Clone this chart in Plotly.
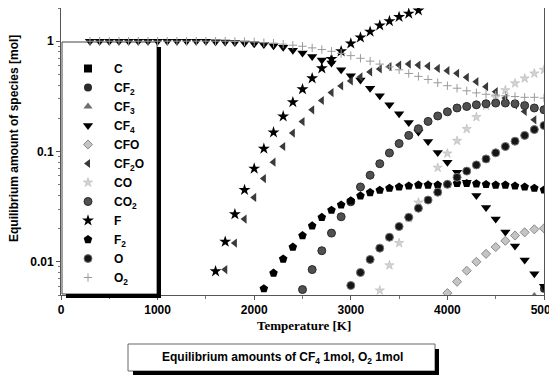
import plotly.graph_objects as go
import math

# ---------------- data ----------------
T_CF4 = list(range(300, 5001, 100))
CF4 = [1.0, 1.0, 1.0, 1.0, 1.0, 1.0, 1.0, 1.0, 1.0, 1.0, 1.0, 1.0, 1.0,
       0.99, 0.985, 0.975, 0.965, 0.95, 0.935, 0.91, 0.88, 0.83, 0.78,
       0.725, 0.675, 0.635, 0.55, 0.487, 0.445, 0.375, 0.321, 0.265, 0.22,
       0.183, 0.15, 0.123, 0.098, 0.08, 0.065, 0.0526, 0.040, 0.031, 0.0244,
       0.0186, 0.0139, 0.0104, 0.0078, 0.006]

T_O2 = list(range(300, 5001, 100))
O2 = [1.0, 1.0, 1.0, 1.0, 1.0, 1.0, 1.0, 1.0, 1.0, 1.0, 1.0, 1.0, 1.0,
      1.0, 1.0, 0.995, 0.99, 0.985,
      0.97, 0.96, 0.94, 0.92, 0.90, 0.87, 0.84, 0.81, 0.775, 0.74,
      0.70, 0.66, 0.62, 0.585, 0.55, 0.51, 0.48, 0.45, 0.42, 0.395,
      0.375, 0.355, 0.34, 0.33, 0.325, 0.32, 0.315, 0.31, 0.31, 0.305]

T_F = list(range(1600, 3701, 100))
F = [0.0082, 0.0152, 0.027, 0.0448, 0.07, 0.106, 0.149, 0.208, 0.28, 0.367,
     0.461, 0.568, 0.69, 0.81, 0.953, 1.08, 1.22, 1.39, 1.52, 1.66, 1.78, 1.9]

T_CF2O = list(range(1700, 5001, 100))
CF2O = [0.0085, 0.0148, 0.0244, 0.0383, 0.0568, 0.080, 0.111, 0.147, 0.187,
        0.239, 0.29, 0.342, 0.393, 0.436, 0.474, 0.526, 0.56, 0.587, 0.608,
        0.621, 0.608, 0.595, 0.567, 0.54, 0.512, 0.471, 0.43, 0.387, 0.349,
        0.305, 0.265, 0.231, 0.194, 0.169]

T_F2 = list(range(2100, 5001, 100))
F2 = [0.0057, 0.0079, 0.0106, 0.0136, 0.0173, 0.0212, 0.0253, 0.0294, 0.0328,
      0.0357, 0.0396, 0.0425, 0.0446, 0.0465, 0.0477, 0.0487, 0.0497, 0.0497,
      0.0497, 0.0503, 0.0514, 0.0514, 0.051, 0.0503, 0.0497, 0.0497, 0.0487,
      0.0477, 0.0465, 0.0448]

T_CO2 = list(range(2500, 5001, 100))
CO2 = [0.0056, 0.0085, 0.0126, 0.0182, 0.0256, 0.035, 0.0477, 0.061, 0.0775,
       0.097, 0.118, 0.14, 0.161, 0.1875, 0.21, 0.229, 0.248, 0.256, 0.265,
       0.271, 0.275, 0.275, 0.271, 0.261, 0.248, 0.239]

T_O = list(range(3000, 5001, 100))
O = [0.0061, 0.008, 0.0105, 0.0133, 0.0167, 0.0209, 0.0253, 0.0306, 0.0363,
     0.0428, 0.0504, 0.0583, 0.0664, 0.0756, 0.0856, 0.0973, 0.111, 0.124,
     0.14, 0.158, 0.172]

T_CO = list(range(3300, 5001, 100))
CO = [0.0055, 0.0093, 0.0148, 0.0248, 0.0345, 0.05, 0.0713, 0.096, 0.125,
      0.16, 0.205, 0.26, 0.31, 0.36, 0.415, 0.46, 0.51, 0.55]

T_CFO = list(range(4000, 5001, 100))
CFO = [0.0052, 0.0066, 0.0083, 0.010, 0.0118, 0.0136, 0.0155, 0.0173, 0.0185,
       0.0197, 0.0201]

T_CF2 = [5000]
CF2 = [0.0057]

T_CF3 = [4900]
CF3 = [0.0049]

# C stays below the visible range of the chart
T_C = [5000]
C = [0.003]

X_TICKS = [0, 1000, 2000, 3000, 4000, 5000]
Y_TICKS = [0.01, 0.1, 1]
Y_TICKTEXT = ["0.01", "0.1", "1"]

# ---------------- figure ----------------
# The page body has an 8px default margin; the figure is sized to fit the window.
OFF = 8
W, H = 557 - OFF, 385 - OFF
PLOT_L, PLOT_R, PLOT_T, PLOT_B = 61, 544, 8, 295   # plot area in window pixels
ML = PLOT_L - OFF
MT = PLOT_T - OFF
MR = W - (PLOT_R - OFF)
MB = H - (PLOT_B - OFF)
PW, PH = PLOT_R - PLOT_L, PLOT_B - PLOT_T


def px(xp):
    return (xp - PLOT_L) / PW


def py(yp):
    return (PLOT_B - yp) / PH


series = [
    ("C", T_C, C, dict(symbol="square", size=8, color="black")),
    ("CF<sub>2</sub>", T_CF2, CF2, dict(symbol="circle", size=8, color="#2a2a2a")),
    ("CF<sub>3</sub>", T_CF3, CF3, dict(symbol="triangle-up", size=8, color="#6e6e6e")),
    ("CF<sub>4</sub>", T_CF4, CF4, dict(symbol="triangle-down", size=9, color="black")),
    ("CFO", T_CFO, CFO, dict(symbol="diamond", size=7, color="#c4c4c4",
                             line=dict(color="#8a8a8a", width=1))),
    ("CF<sub>2</sub>O", T_CF2O, CF2O, dict(symbol="triangle-left", size=8, color="#3a3a3a")),
    ("CO", T_CO, CO, dict(symbol="star", size=7, color="#d2d2d2",
                          line=dict(color="#b0b0b0", width=0.5))),
    ("CO<sub>2</sub>", T_CO2, CO2, dict(symbol="circle", size=8, color="#505050",
                                        line=dict(color="#2a2a2a", width=1))),
    ("F", T_F, F, dict(symbol="star", size=9, color="black")),
    ("F<sub>2</sub>", T_F2, F2, dict(symbol="pentagon", size=9, color="black")),
    ("O", T_O, O, dict(symbol="circle", size=8, color="#151515",
                       line=dict(color="#777777", width=1))),
    ("O<sub>2</sub>", T_O2, O2, dict(symbol="cross-thin", size=6, color="#9a9a9a",
                                     line=dict(color="#9a9a9a", width=1))),
]

fig = go.Figure()
for name, xs, ys, mk in series:
    fig.add_trace(go.Scatter(x=xs, y=ys, mode="markers", name=name, marker=mk,
                             showlegend=True))

axis_font = dict(family="Liberation Sans", size=12, color="black", weight="bold")

minor_y = [0.005, 0.006, 0.007, 0.008, 0.009, 0.02, 0.03, 0.04, 0.05, 0.06, 0.07,
           0.08, 0.09, 0.2, 0.3, 0.4, 0.5, 0.6, 0.7, 0.8, 0.9, 2]

fig.update_layout(
    template="none",
    width=W, height=H,
    margin=dict(l=ML, r=MR, t=MT, b=MB, pad=0, autoexpand=False),
    paper_bgcolor="white", plot_bgcolor="white",
    font=axis_font,
    xaxis=dict(range=[0, 5000], tickvals=X_TICKS, showgrid=False, zeroline=False,
               automargin=False, ticklabeloverflow="allow",
               showline=True, linecolor="#555", linewidth=1, mirror=True,
               ticks="outside", ticklen=4, tickcolor="#555",
               minor=dict(dtick=500, ticks="outside", ticklen=3, tickcolor="#777"),
               tickfont=axis_font),
    yaxis=dict(type="log", range=[math.log10(0.005), math.log10(2)],
               tickvals=Y_TICKS, ticktext=Y_TICKTEXT, showgrid=False, zeroline=False,
               automargin=False, ticklabeloverflow="allow",
               showline=True, linecolor="#555", linewidth=1, mirror=True,
               ticks="outside", ticklen=4, tickcolor="#555",
               minor=dict(tickvals=minor_y, ticks="outside", ticklen=2, tickcolor="#777"),
               tickfont=axis_font),
    legend=dict(x=px(62), y=py(54), xanchor="left", yanchor="top",
                bgcolor="rgba(0,0,0,0)", borderwidth=0, tracegroupgap=0,
                itemsizing="trace", itemwidth=42,
                font=dict(family="Liberation Sans", size=12, color="black", weight="bold")),
)

shapes = [
    # legend frame and shadow
    dict(type="rect", xref="paper", yref="paper", x0=px(62), x1=px(157), y0=py(294), y1=py(42),
         fillcolor="white", line=dict(color="#444", width=1), layer="below"),
    dict(type="rect", xref="paper", yref="paper", x0=px(157), x1=px(161), y0=py(298), y1=py(47),
         fillcolor="black", line=dict(width=0), layer="above"),
    dict(type="rect", xref="paper", yref="paper", x0=px(66), x1=px(161), y0=py(298), y1=py(294),
         fillcolor="black", line=dict(width=0), layer="above"),
    # caption frame and shadow
    dict(type="rect", xref="paper", yref="paper", x0=px(128), x1=px(435), y0=py(371), y1=py(344),
         fillcolor="white", line=dict(color="#666", width=1), layer="above"),
    dict(type="rect", xref="paper", yref="paper", x0=px(435), x1=px(439), y0=py(375), y1=py(349),
         fillcolor="black", line=dict(width=0), layer="above"),
    dict(type="rect", xref="paper", yref="paper", x0=px(133), x1=px(439), y0=py(375), y1=py(371),
         fillcolor="black", line=dict(width=0), layer="above"),
]
fig.update_layout(shapes=shapes)

fig.add_annotation(xref="paper", yref="paper", x=px(14), y=py(139), textangle=-90,
                   text="Equilibrium amount of species [mol]", showarrow=False,
                   xanchor="center", yanchor="middle",
                   font=dict(family="Liberation Sans", size=12, color="black", weight="bold"))
fig.add_annotation(xref="paper", yref="paper", x=px(304), y=py(325),
                   text="Temperature [K]", showarrow=False,
                   xanchor="center", yanchor="middle",
                   font=dict(family="Liberation Serif", size=13, color="black", weight="bold"))
fig.add_annotation(xref="paper", yref="paper", x=px(282), y=py(358),
                   text="Equilibrium amounts of CF<sub>4</sub> 1mol, O<sub>2</sub> 1mol",
                   showarrow=False, xanchor="center", yanchor="middle",
                   font=dict(family="Liberation Sans", size=12, color="black", weight="bold"))

fig.write_html("out.html")
